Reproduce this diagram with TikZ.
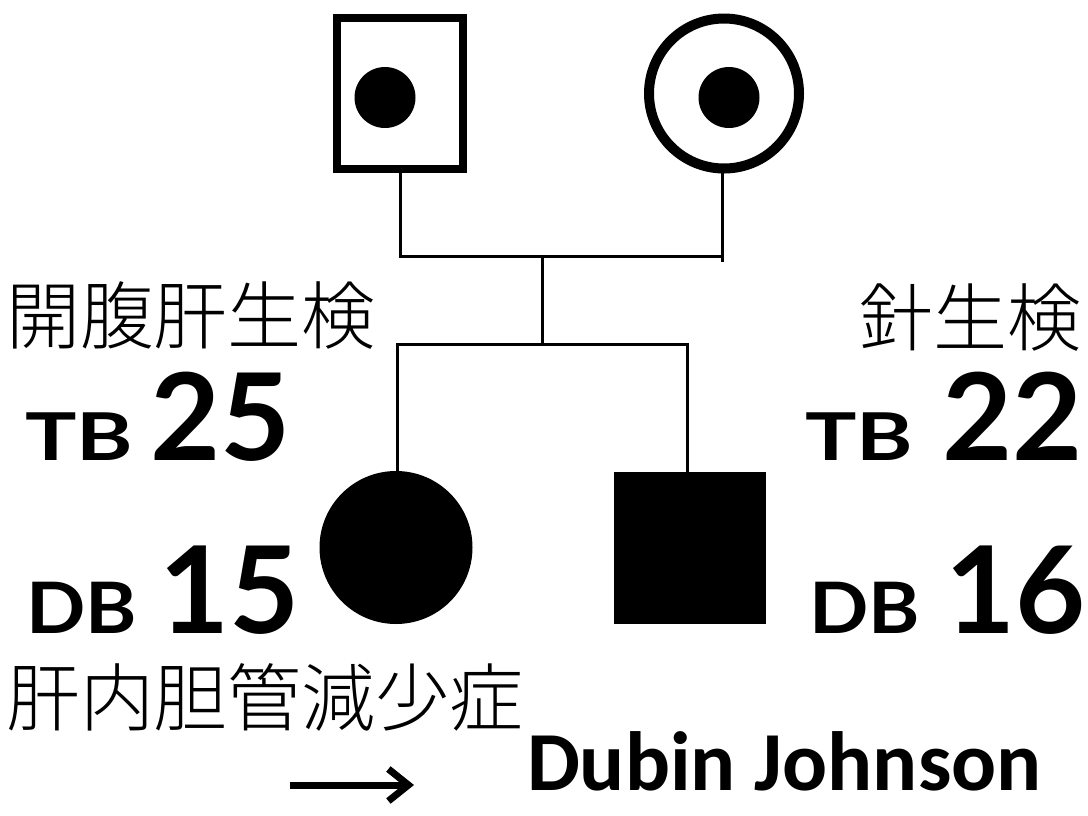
\documentclass[tikz,border=0pt]{standalone}
\usepackage{fontspec}
\usetikzlibrary{arrows.meta}
\newfontfamily\cjk{Noto Sans CJK JP Light}
\newfontfamily\gillish{Lato}
\newfontfamily\calib{Carlito}
\begin{document}
\begin{tikzpicture}[x=1pt,y=-1pt,
  every node/.style={inner sep=0pt,outer sep=0pt},
  parentsq/.style={draw,line width=8pt,rectangle,minimum width=126pt,minimum height=151pt},
  parentci/.style={draw,line width=10pt,circle,minimum size=150pt},
  carrier/.style={fill,circle,minimum size=61pt},
  affected/.style={fill},
  link/.style={line width=3pt},
  jp/.style={font=\cjk\fontsize{74}{80}\selectfont},
  lab/.style={font=\gillish\bfseries},
  big/.style={font=\gillish\bfseries\fontsize{121}{125}\selectfont}
]
\useasboundingbox (0,0) rectangle (1088,815);
% parents
\node[parentsq] (father) at (400,93.5) {};
\node[carrier] (fdot) at (385,97.5) {};
\node[parentci] (mother) at (724,93.5) {};
\node[carrier] (mdot) at (729,97.5) {};
% children
\node[affected,circle,minimum size=153pt] (daughter) at (396,547.5) {};
\node[affected,rectangle,minimum size=152pt] (son) at (690,547.5) {};
% connectors
\coordinate (fm) at (400,256);
\coordinate (mm) at (722,256);
\coordinate (mend) at (722,262);
\coordinate (desc) at (542,256);
\coordinate (sib) at (542,344);
\coordinate (sibl) at (397,344);
\coordinate (sibr) at (687,344);
\draw[link] (father.south) -- (fm) -- (mm);
\draw[link] (722,173) -- (mend);
\draw[link] (desc) -- (sib);
\draw[link] (daughter.north -| sibl) -- (sibl) -- (sibr) -- (son.north -| sibr);
% left labels
\node[jp,anchor=base west] (lbx) at (6,343) {開腹肝生検};
\node[lab,anchor=base west,font=\gillish\bfseries\fontsize{66}{70}\selectfont,xscale=1.3] (ltb) at (25,460) {TB};
\node[big,anchor=base east] (ltbv) at (291,460) {25};
\node[lab,anchor=base west,font=\gillish\bfseries\fontsize{71}{75}\selectfont,xscale=1.1] (ldb) at (26,633) {DB};
\node[big,anchor=base east] (ldbv) at (300,633) {15};
\node[jp,anchor=base west] (ldx) at (6,725) {肝内胆管減少症};
% right labels
\node[jp,anchor=base east] (rbx) at (1081,345) {針生検};
\node[lab,anchor=base west,font=\gillish\bfseries\fontsize{66}{70}\selectfont,xscale=1.3] (rtb) at (805,460) {TB};
\node[big,anchor=base east] (rtbv) at (1083,460) {22};
\node[lab,anchor=base west,font=\gillish\bfseries\fontsize{71}{75}\selectfont,xscale=1.1] (rdb) at (809,633) {DB};
\node[big,anchor=base east] (rdbv) at (1086,633) {16};
% bottom
\coordinate (as) at (290,785);
\coordinate (ae) at (414,785);
\draw[line width=7pt,-{Straight Barb[length=20pt,width=32pt,line width=7pt]}] (as) -- (ae);
\node[anchor=base west,font=\calib\bfseries\fontsize{84}{88}\selectfont] (dj) at (527,790) {Dubin Johnson};
\end{tikzpicture}
\end{document}
